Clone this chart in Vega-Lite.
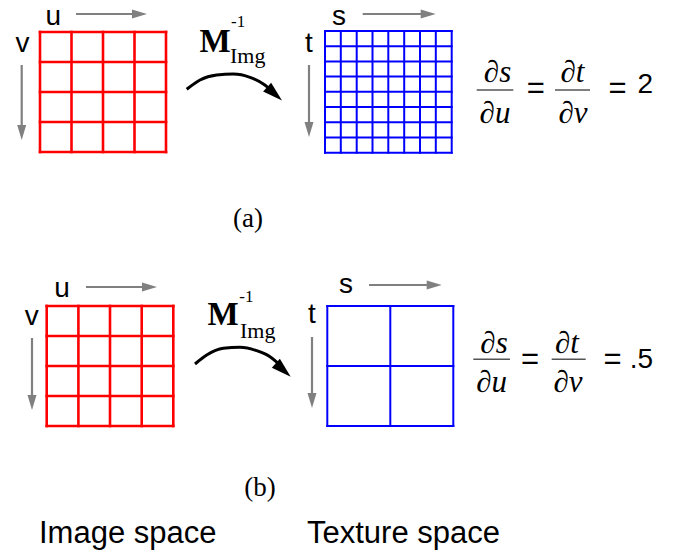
{
  "$schema": "https://vega.github.io/schema/vega-lite/v6.json",
  "width": 673,
  "height": 557,
  "autosize": {"type": "fit", "contains": "padding"},
  "padding": 0,
  "background": "white",
  "config": {"view": {"stroke": null}},
  "data": {
    "values": [
      {"kind": "red", "x": 40, "y": 32, "x2": 40, "y2": 152},
      {"kind": "red", "x": 71.5, "y": 32, "x2": 71.5, "y2": 152},
      {"kind": "red", "x": 103, "y": 32, "x2": 103, "y2": 152},
      {"kind": "red", "x": 134.5, "y": 32, "x2": 134.5, "y2": 152},
      {"kind": "red", "x": 166, "y": 32, "x2": 166, "y2": 152},
      {"kind": "red", "x": 40, "y": 32, "x2": 166, "y2": 32},
      {"kind": "red", "x": 40, "y": 62, "x2": 166, "y2": 62},
      {"kind": "red", "x": 40, "y": 92, "x2": 166, "y2": 92},
      {"kind": "red", "x": 40, "y": 122, "x2": 166, "y2": 122},
      {"kind": "red", "x": 40, "y": 152, "x2": 166, "y2": 152},
      {"kind": "red", "x": 46.7, "y": 306, "x2": 46.7, "y2": 426},
      {"kind": "red", "x": 78.4, "y": 306, "x2": 78.4, "y2": 426},
      {"kind": "red", "x": 110, "y": 306, "x2": 110, "y2": 426},
      {"kind": "red", "x": 141.7, "y": 306, "x2": 141.7, "y2": 426},
      {"kind": "red", "x": 173.3, "y": 306, "x2": 173.3, "y2": 426},
      {"kind": "red", "x": 46.7, "y": 306, "x2": 173.3, "y2": 306},
      {"kind": "red", "x": 46.7, "y": 336, "x2": 173.3, "y2": 336},
      {"kind": "red", "x": 46.7, "y": 366, "x2": 173.3, "y2": 366},
      {"kind": "red", "x": 46.7, "y": 396, "x2": 173.3, "y2": 396},
      {"kind": "red", "x": 46.7, "y": 426, "x2": 173.3, "y2": 426},

      {"kind": "blue", "x": 325, "y": 31, "x2": 325, "y2": 152.7},
      {"kind": "blue", "x": 340.8, "y": 31, "x2": 340.8, "y2": 152.7},
      {"kind": "blue", "x": 356.7, "y": 31, "x2": 356.7, "y2": 152.7},
      {"kind": "blue", "x": 372.5, "y": 31, "x2": 372.5, "y2": 152.7},
      {"kind": "blue", "x": 388.3, "y": 31, "x2": 388.3, "y2": 152.7},
      {"kind": "blue", "x": 404.2, "y": 31, "x2": 404.2, "y2": 152.7},
      {"kind": "blue", "x": 420, "y": 31, "x2": 420, "y2": 152.7},
      {"kind": "blue", "x": 435.8, "y": 31, "x2": 435.8, "y2": 152.7},
      {"kind": "blue", "x": 451.7, "y": 31, "x2": 451.7, "y2": 152.7},
      {"kind": "blue", "x": 325, "y": 31, "x2": 451.7, "y2": 31},
      {"kind": "blue", "x": 325, "y": 46.2, "x2": 451.7, "y2": 46.2},
      {"kind": "blue", "x": 325, "y": 61.4, "x2": 451.7, "y2": 61.4},
      {"kind": "blue", "x": 325, "y": 76.6, "x2": 451.7, "y2": 76.6},
      {"kind": "blue", "x": 325, "y": 91.8, "x2": 451.7, "y2": 91.8},
      {"kind": "blue", "x": 325, "y": 107, "x2": 451.7, "y2": 107},
      {"kind": "blue", "x": 325, "y": 122.3, "x2": 451.7, "y2": 122.3},
      {"kind": "blue", "x": 325, "y": 137.5, "x2": 451.7, "y2": 137.5},
      {"kind": "blue", "x": 325, "y": 152.7, "x2": 451.7, "y2": 152.7},
      {"kind": "blue", "x": 327.3, "y": 306, "x2": 327.3, "y2": 426},
      {"kind": "blue", "x": 390.3, "y": 306, "x2": 390.3, "y2": 426},
      {"kind": "blue", "x": 453.3, "y": 306, "x2": 453.3, "y2": 426},
      {"kind": "blue", "x": 327.3, "y": 306, "x2": 453.3, "y2": 306},
      {"kind": "blue", "x": 327.3, "y": 366, "x2": 453.3, "y2": 366},
      {"kind": "blue", "x": 327.3, "y": 426, "x2": 453.3, "y2": 426},

      {"kind": "gray", "x": 76, "y": 14, "x2": 140, "y2": 14},
      {"kind": "gray", "x": 21.7, "y": 65, "x2": 21.7, "y2": 133},
      {"kind": "gray", "x": 362.7, "y": 14, "x2": 428, "y2": 14},
      {"kind": "gray", "x": 309, "y": 65, "x2": 309, "y2": 130},
      {"kind": "gray", "x": 86, "y": 287, "x2": 150, "y2": 287},
      {"kind": "gray", "x": 32, "y": 338, "x2": 32, "y2": 403},
      {"kind": "gray", "x": 369, "y": 285, "x2": 434, "y2": 285},
      {"kind": "gray", "x": 312, "y": 337, "x2": 312, "y2": 401},

      {"kind": "headR", "x": 147, "y": 14},
      {"kind": "headR", "x": 435.7, "y": 14},
      {"kind": "headR", "x": 157, "y": 287},
      {"kind": "headR", "x": 441.7, "y": 285},
      {"kind": "headD", "x": 21.7, "y": 140},
      {"kind": "headD", "x": 309, "y": 137},
      {"kind": "headD", "x": 32, "y": 410},
      {"kind": "headD", "x": 312, "y": 408},

      {"kind": "curveA", "x": 186.7, "y": 89.3},
      {"kind": "curveA", "x": 200, "y": 80},
      {"kind": "curveA", "x": 216.7, "y": 75},
      {"kind": "curveA", "x": 233.3, "y": 74},
      {"kind": "curveA", "x": 250, "y": 77.3},
      {"kind": "curveA", "x": 263.3, "y": 84},
      {"kind": "curveA", "x": 273.3, "y": 92},
      {"kind": "curveB", "x": 195, "y": 364},
      {"kind": "curveB", "x": 206.7, "y": 355},
      {"kind": "curveB", "x": 223.3, "y": 348.3},
      {"kind": "curveB", "x": 240, "y": 347.3},
      {"kind": "curveB", "x": 256.7, "y": 350.7},
      {"kind": "curveB", "x": 270, "y": 356.7},
      {"kind": "curveB", "x": 281, "y": 366},
      {"kind": "headC", "x": 282, "y": 100.5},
      {"kind": "headC", "x": 290.7, "y": 376.7},

      {"kind": "bar", "x": 476.7, "y": 90, "x2": 513.3, "y2": 90},
      {"kind": "bar", "x": 555, "y": 90, "x2": 590, "y2": 90},
      {"kind": "bar", "x": 473.3, "y": 359.3, "x2": 510, "y2": 359.3},
      {"kind": "bar", "x": 551.7, "y": 359.3, "x2": 585.7, "y2": 359.3},

      {"kind": "lab", "x": 53.3, "y": 25, "text": "u"},
      {"kind": "lab", "x": 22.5, "y": 51.7, "text": "v"},
      {"kind": "lab", "x": 339, "y": 25, "text": "s"},
      {"kind": "lab", "x": 309, "y": 51.7, "text": "t"},
      {"kind": "lab", "x": 62, "y": 296.7, "text": "u"},
      {"kind": "lab", "x": 31.7, "y": 325, "text": "v"},
      {"kind": "lab", "x": 346, "y": 293.3, "text": "s"},
      {"kind": "lab", "x": 312, "y": 323.3, "text": "t"},

      {"kind": "eq", "x": 535.7, "y": 89, "text": "="},
      {"kind": "eq", "x": 617.5, "y": 89, "text": "="},
      {"kind": "eq", "x": 530, "y": 360, "text": "="},
      {"kind": "eq", "x": 612.5, "y": 360, "text": "="},

      {"kind": "val", "x": 653, "y": 93.3, "text": "2"},
      {"kind": "val", "x": 653, "y": 368.3, "text": ".5"},

      {"kind": "math", "x": 497.5, "y": 81.7, "text": "∂s"},
      {"kind": "math", "x": 495, "y": 122.5, "text": "∂u"},
      {"kind": "math", "x": 572.5, "y": 81.7, "text": "∂t"},
      {"kind": "math", "x": 573, "y": 122.5, "text": "∂v"},
      {"kind": "math", "x": 494, "y": 353.3, "text": "∂s"},
      {"kind": "math", "x": 491.7, "y": 391.7, "text": "∂u"},
      {"kind": "math", "x": 567, "y": 353, "text": "∂t"},
      {"kind": "math", "x": 568, "y": 391.7, "text": "∂v"},

      {"kind": "M", "x": 199.5, "y": 52, "text": "M"},
      {"kind": "M", "x": 207.5, "y": 325, "text": "M"},
      {"kind": "sup", "x": 231, "y": 26.7, "text": "-1"},
      {"kind": "sup", "x": 239.3, "y": 301.7, "text": "-1"},
      {"kind": "sub", "x": 230, "y": 63, "text": "Img"},
      {"kind": "sub", "x": 240, "y": 338.3, "text": "Img"},

      {"kind": "cap", "x": 248, "y": 227, "text": "(a)"},
      {"kind": "cap", "x": 260, "y": 496, "text": "(b)"},

      {"kind": "big", "x": 39, "y": 543.3, "text": "Image space"},
      {"kind": "big", "x": 307, "y": 543.3, "text": "Texture space"}
    ]
  },
  "encoding": {
    "x": {"field": "x", "type": "quantitative", "scale": {"domain": [0, 673], "nice": false, "zero": false}, "axis": null},
    "y": {"field": "y", "type": "quantitative", "scale": {"domain": [0, 557], "nice": false, "zero": false, "reverse": true}, "axis": null}
  },
  "layer": [
    {
      "transform": [{"filter": "datum.kind == 'red'"}],
      "mark": {"type": "rule", "color": "#ff0000", "strokeWidth": 2.6, "strokeCap": "square"},
      "encoding": {"x2": {"field": "x2"}, "y2": {"field": "y2"}}
    },
    {
      "transform": [{"filter": "datum.kind == 'blue'"}],
      "mark": {"type": "rule", "color": "#0000ff", "strokeWidth": 2, "strokeCap": "square"},
      "encoding": {"x2": {"field": "x2"}, "y2": {"field": "y2"}}
    },
    {
      "transform": [{"filter": "datum.kind == 'gray'"}],
      "mark": {"type": "rule", "color": "#808080", "strokeWidth": 2.2},
      "encoding": {"x2": {"field": "x2"}, "y2": {"field": "y2"}}
    },
    {
      "transform": [{"filter": "datum.kind == 'headR'"}],
      "mark": {"type": "point", "shape": "M-2,-0.6L0,0L-2,0.6Z", "size": 225, "filled": true, "color": "#808080", "opacity": 1, "strokeWidth": 0}
    },
    {
      "transform": [{"filter": "datum.kind == 'headD'"}],
      "mark": {"type": "point", "shape": "M-0.6,-2L0,0L0.6,-2Z", "size": 225, "filled": true, "color": "#808080", "opacity": 1, "strokeWidth": 0}
    },
    {
      "transform": [{"filter": "datum.kind == 'curveA'"}],
      "mark": {"type": "line", "color": "black", "strokeWidth": 3, "interpolate": "monotone"}
    },
    {
      "transform": [{"filter": "datum.kind == 'curveB'"}],
      "mark": {"type": "line", "color": "black", "strokeWidth": 3, "interpolate": "monotone"}
    },
    {
      "transform": [{"filter": "datum.kind == 'headC'"}],
      "mark": {"type": "point", "shape": "M-2,-0.6L0,0L-2,0.6Z", "size": 400, "angle": 42, "filled": true, "color": "black", "opacity": 1, "strokeWidth": 0}
    },
    {
      "transform": [{"filter": "datum.kind == 'bar'"}],
      "mark": {"type": "rule", "color": "#555555", "strokeWidth": 1.6},
      "encoding": {"x2": {"field": "x2"}, "y2": {"field": "y2"}}
    },
    {
      "transform": [{"filter": "datum.kind == 'lab'"}],
      "mark": {"type": "text", "font": "Liberation Sans", "fontSize": 28, "align": "center", "baseline": "alphabetic", "color": "black"},
      "encoding": {"text": {"field": "text"}}
    },
    {
      "transform": [{"filter": "datum.kind == 'eq'"}],
      "mark": {"type": "text", "font": "Liberation Sans", "fontSize": 31, "align": "center", "baseline": "middle", "color": "black"},
      "encoding": {"text": {"field": "text"}}
    },
    {
      "transform": [{"filter": "datum.kind == 'val'"}],
      "mark": {"type": "text", "font": "Liberation Sans", "fontSize": 28, "align": "right", "baseline": "alphabetic", "color": "black"},
      "encoding": {"text": {"field": "text"}}
    },
    {
      "transform": [{"filter": "datum.kind == 'math'"}],
      "mark": {"type": "text", "font": "Liberation Serif", "fontStyle": "italic", "fontSize": 31, "align": "center", "baseline": "alphabetic", "color": "black"},
      "encoding": {"text": {"field": "text"}}
    },
    {
      "transform": [{"filter": "datum.kind == 'M'"}],
      "mark": {"type": "text", "font": "Liberation Serif", "fontWeight": "bold", "fontSize": 33, "align": "left", "baseline": "alphabetic", "color": "black"},
      "encoding": {"text": {"field": "text"}}
    },
    {
      "transform": [{"filter": "datum.kind == 'sup'"}],
      "mark": {"type": "text", "font": "Liberation Serif", "fontSize": 17, "align": "left", "baseline": "alphabetic", "color": "black"},
      "encoding": {"text": {"field": "text"}}
    },
    {
      "transform": [{"filter": "datum.kind == 'sub'"}],
      "mark": {"type": "text", "font": "Liberation Serif", "fontSize": 22, "align": "left", "baseline": "alphabetic", "color": "black"},
      "encoding": {"text": {"field": "text"}}
    },
    {
      "transform": [{"filter": "datum.kind == 'cap'"}],
      "mark": {"type": "text", "font": "Liberation Serif", "fontSize": 27, "align": "center", "baseline": "alphabetic", "color": "black"},
      "encoding": {"text": {"field": "text"}}
    },
    {
      "transform": [{"filter": "datum.kind == 'big'"}],
      "mark": {"type": "text", "font": "Liberation Sans", "fontSize": 31, "align": "left", "baseline": "alphabetic", "color": "black"},
      "encoding": {"text": {"field": "text"}}
    }
  ]
}
